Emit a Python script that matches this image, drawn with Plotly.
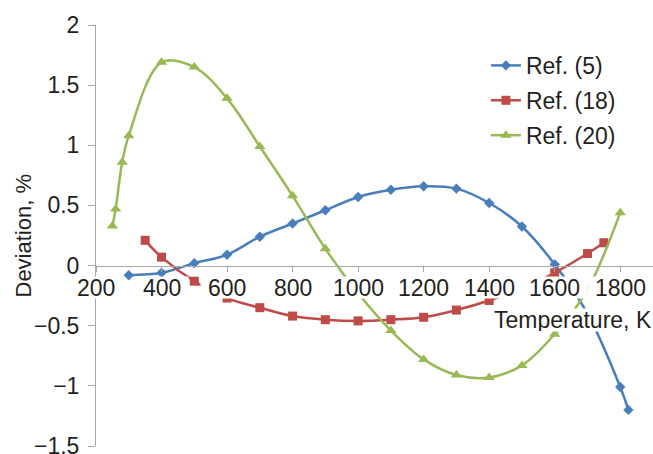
import plotly.graph_objects as go

# ---- data ----
T_REF5 = [300, 400, 500, 600, 700, 800, 900, 1000, 1100, 1200, 1300, 1400, 1500, 1600, 1700, 1800, 1825]
V_REF5 = [-0.08, -0.06, 0.02, 0.09, 0.24, 0.35, 0.46, 0.57, 0.63, 0.66, 0.64, 0.52, 0.325, 0.01, -0.40, -1.01, -1.20]

T_REF18 = [350, 400, 500, 600, 700, 800, 900, 1000, 1100, 1200, 1300, 1400, 1500, 1600, 1700, 1750]
V_REF18 = [0.21, 0.07, -0.13, -0.27, -0.35, -0.42, -0.45, -0.46, -0.45, -0.43, -0.37, -0.29, -0.19, -0.06, 0.10, 0.19]

T_REF20 = [250, 260, 280, 300, 400, 500, 600, 700, 800, 900, 1000, 1100, 1200, 1300, 1400, 1500, 1600, 1700, 1800]
V_REF20 = [0.33, 0.47, 0.86, 1.08, 1.69, 1.65, 1.39, 0.99, 0.58, 0.14, -0.23, -0.54, -0.78, -0.91, -0.93, -0.83, -0.57, -0.20, 0.44]

X_TICKS = [200, 400, 600, 800, 1000, 1200, 1400, 1600, 1800]
SERIES_NAMES = ["Ref. (5)", "Ref. (18)", "Ref. (20)"]
X_TITLE = "Temperature, K"
Y_TITLE = "Deviation, %"

FONT = "Liberation Sans, Arial, sans-serif"
TXT = "#231F20"
AX = "#A6A6A6"
FS = 23

fig = go.Figure()
specs = [
    (T_REF5, V_REF5, SERIES_NAMES[0], "#4A7EBB", "diamond", 8),
    (T_REF18, V_REF18, SERIES_NAMES[1], "#BE4B48", "square", 9),
    (T_REF20, V_REF20, SERIES_NAMES[2], "#98B954", "triangle-up", 10),
]
for i, (xs, ys, name, col, sym, ms) in enumerate(specs):
    fig.add_trace(go.Scatter(
        x=xs, y=ys, name=name, mode="lines+markers",
        line=dict(color=col, width=2.5, shape="spline", smoothing=1.0),
        marker=dict(color=col, symbol=sym, size=ms),
        legendgroup=f"g{i}",
    ))

annotations = []
for t in X_TICKS:
    label = str(t)
    annotations.append(dict(
        x=t, y=0, xref="x", yref="y", text=label, showarrow=False,
        xanchor="center", yanchor="middle", yshift=-22,
        width=len(label) * 12.8 + 14, height=21, bgcolor="white", borderpad=0,
        font=dict(family=FONT, size=FS, color=TXT),
    ))
annotations.append(dict(
    x=1.0, y=0, xref="paper", yref="y", text=X_TITLE, showarrow=False,
    xanchor="right", yanchor="middle", yshift=-54,
    height=22, bgcolor="white", borderpad=0,
    font=dict(family=FONT, size=FS, color=TXT),
))
annotations.append(dict(
    x=0, y=0.5, xref="paper", yref="paper", text=Y_TITLE, showarrow=False,
    xanchor="center", yanchor="middle", xshift=-73, textangle=-90,
    font=dict(family=FONT, size=22, color=TXT),
))

fig.update_layout(
    width=653, height=454,
    margin=dict(l=96, r=0, t=25, b=8, autoexpand=False),
    paper_bgcolor="white", plot_bgcolor="white",
    font=dict(family=FONT, size=FS, color=TXT),
    xaxis=dict(
        range=[200, 1900], tickvals=X_TICKS, showticklabels=False,
        ticks="outside", ticklen=5, tickcolor=AX, tickwidth=1,
        showline=True, linecolor=AX, linewidth=1,
        showgrid=False, zeroline=False, automargin=False,
        anchor="free", position=1.5 / 3.5,
    ),
    yaxis=dict(
        range=[-1.5, 2], dtick=0.5, tick0=0,
        ticks="outside", ticklen=7, tickcolor=AX, tickwidth=1,
        showline=True, linecolor=AX, linewidth=1,
        showgrid=False, zeroline=False, automargin=False,
        ticklabeloverflow="allow", ticklabelstandoff=4,
        tickfont=dict(family=FONT, size=FS, color=TXT),
    ),
    legend=dict(
        x=0.70, y=0.955, xanchor="left", yanchor="top",
        bgcolor="rgba(0,0,0,0)", borderwidth=0,
        font=dict(family=FONT, size=FS, color=TXT),
        traceorder="grouped", tracegroupgap=2,
    ),
    annotations=annotations,
    showlegend=True,
)

fig.write_html("out.html")
